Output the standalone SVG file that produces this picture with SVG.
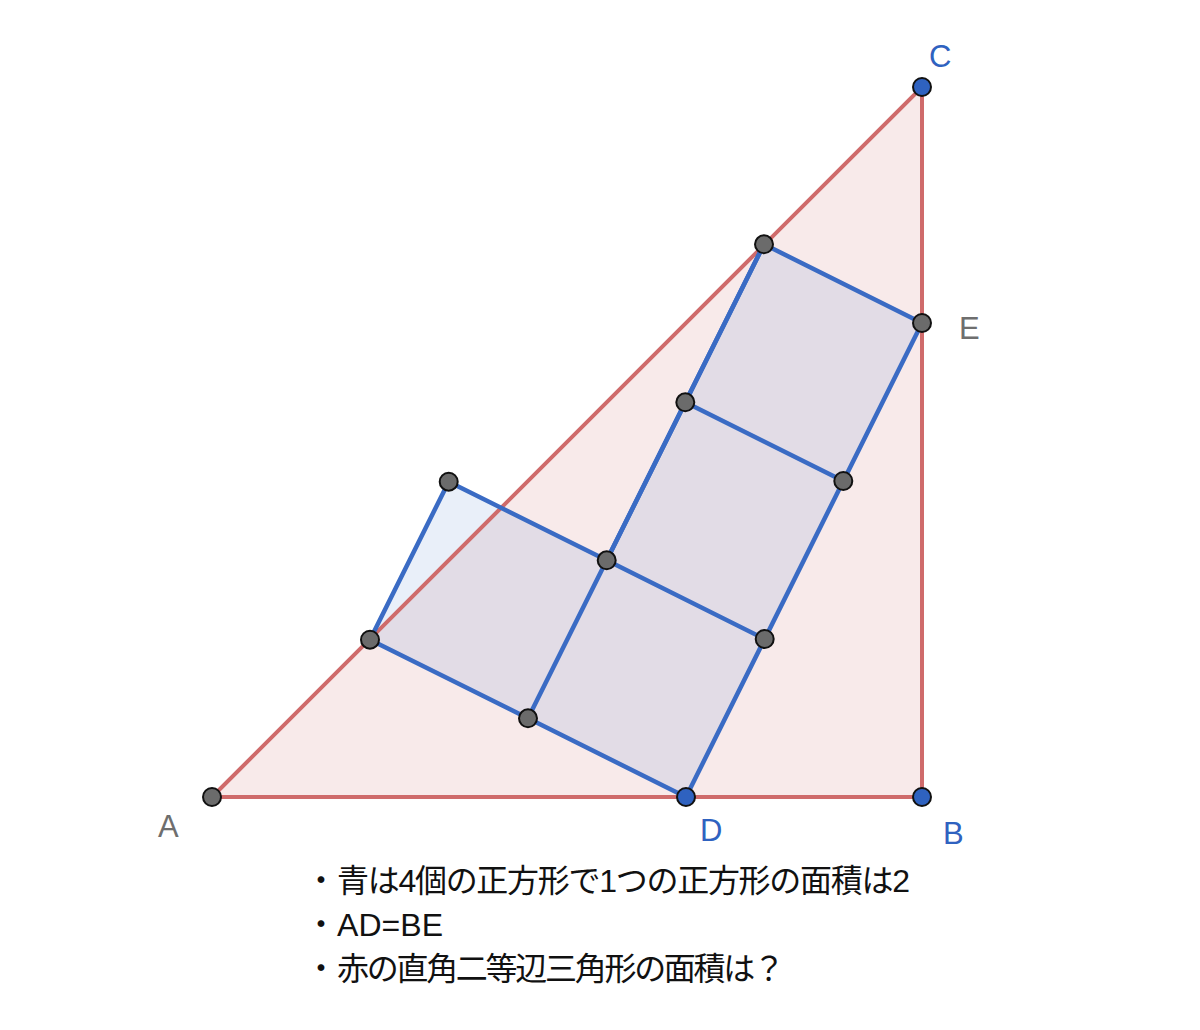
<svg xmlns="http://www.w3.org/2000/svg" width="1200" height="1030" viewBox="0 0 1200 1030">
<style>
.red{stroke:#CF6B6B;stroke-width:4;fill:none;stroke-linecap:round}
.blue{stroke:#3A6BC4;stroke-width:4.5;fill:none;stroke-linecap:round}
.gp{fill:#6B6B6B;stroke:#111;stroke-width:2}
.bp{fill:#2F62C0;stroke:#111;stroke-width:2}
.lab{font-family:"Liberation Sans",Arial,sans-serif;font-size:31px}
.g{fill:#6E6E6E}
.b{fill:#2F62C0}
.txt{font-family:"Liberation Sans","Noto Sans CJK JP",sans-serif;font-size:32px;fill:#111}
</style>
<rect width="1200" height="1030" fill="#fff"/>
<g id="triangle">
<polygon points="212,797 922,797 922,87" fill="#CF6B6B" fill-opacity="0.14"/>
</g>
<g id="squares">
<polygon points="686,797 922,323 764,244.3 606.7,560.3 448.7,481.7 370,639.7 528,718.3" fill="#3A6BC4" fill-opacity="0.11"/>
</g>
<g id="connectors">
<polyline class="red" points="212,797 922,797 922,87 212,797"/>
<polyline class="blue" points="686,797 922,323 764,244.3 606.7,560.3 448.7,481.7 370,639.7 528,718.3 686,797"/>
<line class="blue" x1="528" y1="718.3" x2="764" y2="244.3"/>
<line class="blue" x1="606.7" y1="560.3" x2="764.7" y2="639"/>
<line class="blue" x1="685.3" y1="402.3" x2="843.3" y2="481"/>
</g>
<g id="points">
<circle class="gp" cx="212" cy="797" r="9"/>
<circle class="gp" cx="922" cy="323" r="9"/>
<circle class="gp" cx="764" cy="244.3" r="9"/>
<circle class="gp" cx="685.3" cy="402.3" r="9"/>
<circle class="gp" cx="843.3" cy="481" r="9"/>
<circle class="gp" cx="606.7" cy="560.3" r="9"/>
<circle class="gp" cx="764.7" cy="639" r="9"/>
<circle class="gp" cx="448.7" cy="481.7" r="9"/>
<circle class="gp" cx="370" cy="639.7" r="9"/>
<circle class="gp" cx="528" cy="718.3" r="9"/>
<circle class="bp" cx="686" cy="797" r="9"/>
<circle class="bp" cx="922" cy="797" r="9"/>
<circle class="bp" cx="922" cy="87" r="9"/>
</g>
<g id="labels">
<text class="lab g" x="158" y="837">A</text>
<text class="lab b" x="700" y="841">D</text>
<text class="lab b" x="943" y="844">B</text>
<text class="lab b" x="929" y="67">C</text>
<text class="lab g" x="959" y="339">E</text>
</g>
<g id="notes">
<text class="txt" x="305" y="892">・<tspan x="337" textLength="573">青は4個の正方形で1つの正方形の面積は2</tspan></text>
<text class="txt" x="305" y="936">・<tspan x="337" textLength="106">AD=BE</tspan></text>
<text class="txt" x="305" y="980">・<tspan x="337" textLength="448">赤の直角二等辺三角形の面積は？</tspan></text>
</g>
</svg>
